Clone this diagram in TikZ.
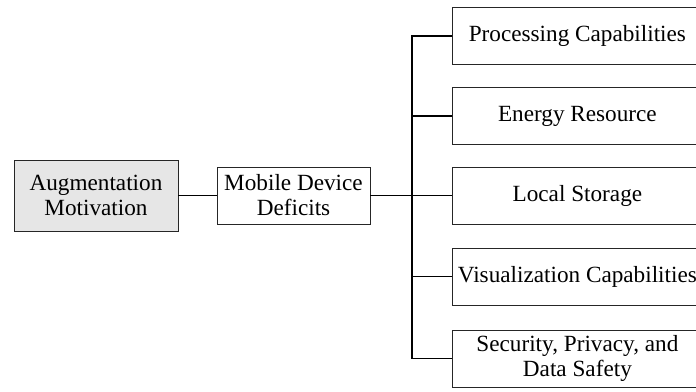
\documentclass[tikz,border=0pt]{standalone}
\usepackage{fontspec}
\setmainfont{Liberation Serif}
\usetikzlibrary{positioning,calc}
\definecolor{motivc}{RGB}{230,230,230}

\begin{document}
\begin{tikzpicture}[x=1pt,y=-1pt]
\tikzstyle{box}=[draw=black!85,line width=0.8pt,align=center,inner sep=0pt,font=\fontsize{23.2}{25}\selectfont];
\tikzstyle{leaf}=[box,anchor=west,minimum width=250pt,minimum height=57pt];
\tikzstyle{link}=[line width=1.9pt];

\useasboundingbox (0,0) rectangle (696,391);
\clip (0,0) rectangle (696,391);

\begin{scope}
        \node[box,fill=motivc,minimum width=164pt,minimum height=71pt] (aug) at (96,195.5) {Augmentation\\Motivation};
        \node[box,minimum width=153pt,minimum height=57pt] (mdd) at (293.5,195.5) {Mobile Device\\Deficits};

        \node[leaf] (proc) at (452,36) {Processing Capabilities};
        \node[leaf] (energy) at (452,116) {Energy Resource};
        \node[leaf] (storage) at (452,195.5) {Local Storage};
        \node[leaf] (visual) at (452,276.5) {Visualization Capabilities};
        \node[leaf] (secur) at (452,358.5) {Security, Privacy, and\\Data Safety};

        \coordinate (jn) at (412,195.5);

        \draw[link] (aug) -- (mdd);
        \draw[link] (mdd.east) -- (jn);
        \foreach \b in {proc,energy,storage,visual,secur}
          \draw[link] (jn) |- (\b.west);
\end{scope}

\end{tikzpicture}
\end{document}
